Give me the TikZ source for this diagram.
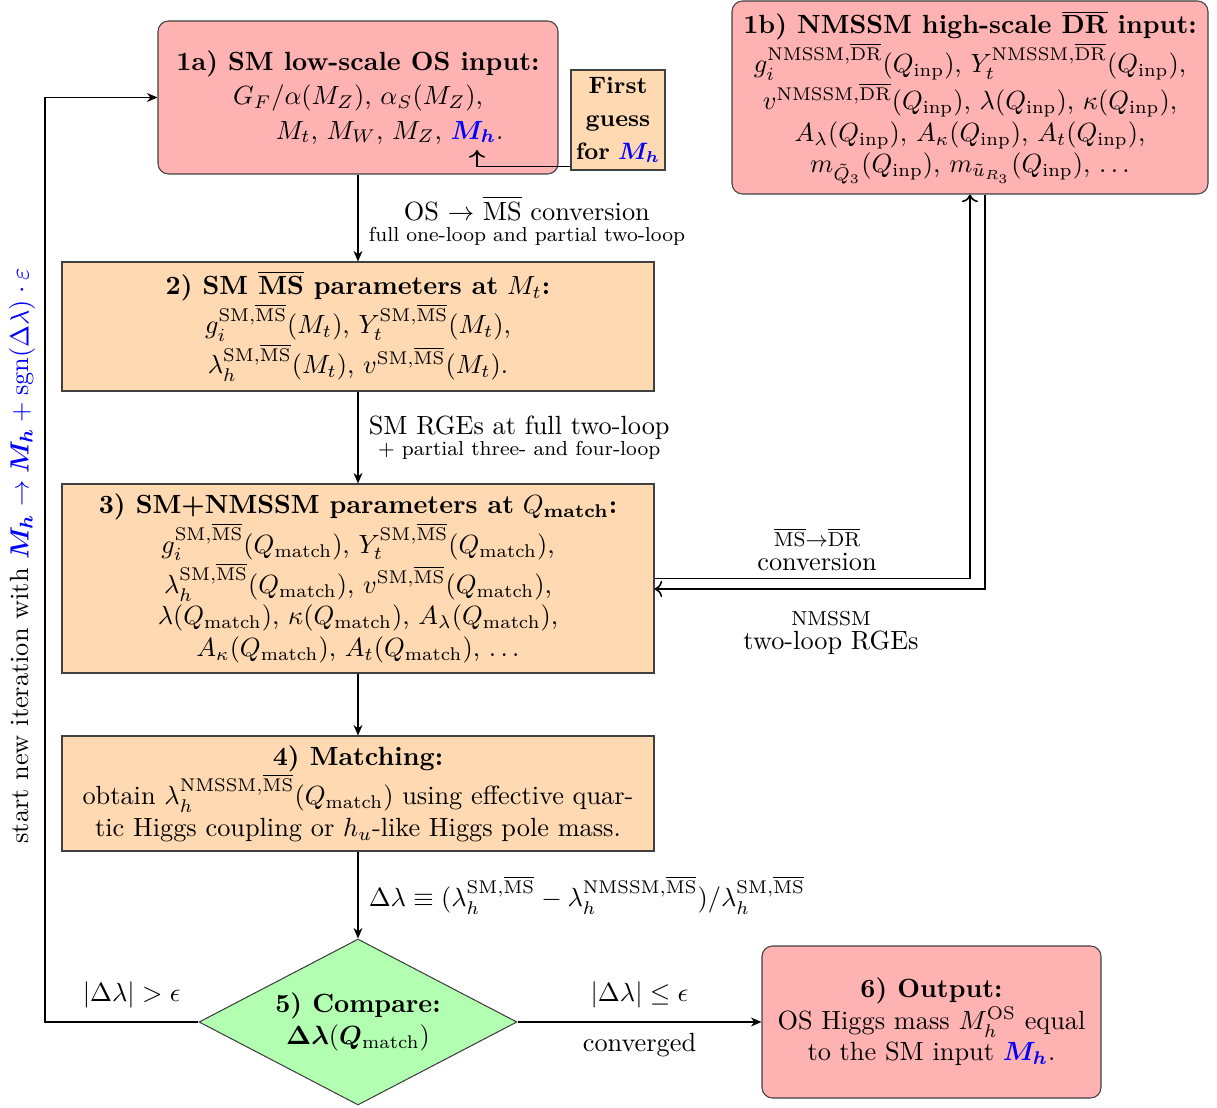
\documentclass[tikz,border=0pt]{standalone}
\usepackage{amsmath,amssymb,bm}
\usetikzlibrary{arrows.meta,shapes.geometric,calc}
\definecolor{pinkbox}{rgb}{1,0.7,0.7}
\definecolor{peachbox}{rgb}{1,0.85,0.7}
\definecolor{greenbox}{rgb}{0.7,1,0.7}
\newcommand{\MSb}{\overline{\text{MS}}}
\newcommand{\DRb}{\overline{\text{DR}}}
\newcommand{\Mhb}{{\color{blue}\bm{M_h}}}
\newcommand{\smalllbl}{\fontsize{7.7}{9}\selectfont}
\begin{document}
\begin{tikzpicture}[x=0.38pt,y=-0.38pt,
  box/.style={draw=black!75,line width=0.4pt,align=center,inner sep=0pt,font=\normalsize},
  redbox/.style={box,fill=pinkbox,rounded corners=4pt},
  orbox/.style={box,fill=peachbox},
  flow/.style={line width=0.6pt,-{Stealth[length=4pt,width=3.4pt]}},
  thin arrow/.style={line width=0.6pt,->},
  lbl/.style={inner sep=0pt,align=center}]
\useasboundingbox (0,0) rectangle (1217,1108);

\node[redbox,minimum width=400*0.38pt,minimum height=153*0.38pt] (n1a) at (358,97.5)
 {\textbf{1a) SM low-scale OS input:}\\[1pt]
  $G_F/\alpha(M_Z)$, $\alpha_S(M_Z)$,\\[1pt]
  \hspace*{24pt}$M_t$, $M_W$, $M_Z$, $\Mhb$.};

\node[orbox,minimum width=94*0.38pt,minimum height=100*0.38pt,font=\small] (fg) at (618,120)
 {\textbf{First}\\[1.5pt]\textbf{guess}\\[1.5pt]\textbf{for} $\Mhb$};

\node[redbox,minimum width=476*0.38pt,minimum height=193*0.38pt] (n1b) at (970,97.5)
 {\textbf{1b) NMSSM high-scale $\overline{\textbf{DR}}$ input:}\\
  $g_i^{\text{NMSSM},\DRb}(Q_{\text{inp}})$, $Y_t^{\text{NMSSM},\DRb}(Q_{\text{inp}})$,\\
  $v^{\text{NMSSM},\DRb}(Q_{\text{inp}})$, $\lambda(Q_{\text{inp}})$, $\kappa(Q_{\text{inp}})$,\\
  $A_\lambda(Q_{\text{inp}})$, $A_\kappa(Q_{\text{inp}})$, $A_t(Q_{\text{inp}})$,\\
  $m_{\tilde Q_3}(Q_{\text{inp}})$, $m_{\tilde u_{R_3}}(Q_{\text{inp}})$, $\ldots$};

\node[orbox,minimum width=592*0.38pt,minimum height=129*0.38pt] (n2) at (358,326.5)
 {\textbf{2) SM $\overline{\textbf{MS}}$ parameters at} $M_t$\textbf{:}\\
  $g_i^{\text{SM},\MSb}(M_t)$, $Y_t^{\text{SM},\MSb}(M_t)$,\\
  $\lambda_h^{\text{SM},\MSb}(M_t)$, $v^{\text{SM},\MSb}(M_t)$.};

\node[orbox,minimum width=592*0.38pt,minimum height=189*0.38pt] (n3) at (358,578.5)
 {\textbf{3) SM+NMSSM parameters at} $Q_{\textbf{match}}$\textbf{:}\\
  $g_i^{\text{SM},\MSb}(Q_{\text{match}})$, $Y_t^{\text{SM},\MSb}(Q_{\text{match}})$,\\
  $\lambda_h^{\text{SM},\MSb}(Q_{\text{match}})$, $v^{\text{SM},\MSb}(Q_{\text{match}})$,\\
  $\lambda(Q_{\text{match}})$, $\kappa(Q_{\text{match}})$, $A_\lambda(Q_{\text{match}})$,\\
  $A_\kappa(Q_{\text{match}})$, $A_t(Q_{\text{match}})$, $\ldots$};

\node[orbox,minimum width=592*0.38pt,minimum height=115*0.38pt] (n4) at (358,793.5)
 {\textbf{4) Matching:}\\
  obtain $\lambda_h^{\text{NMSSM},\MSb}(Q_{\text{match}})$ using effective quar-\\
  tic Higgs coupling or $h_u$-like Higgs pole mass.};

\node[draw=black!75,line width=0.4pt,fill=greenbox,diamond,aspect=1.92,inner sep=0pt,
      minimum width=318*0.38pt,minimum height=166*0.38pt,align=center] (n5) at (358,1022)
 {\textbf{5) Compare:}\\ $\bm{\Delta\lambda}(\bm{Q}_{\text{match}})$};

\node[redbox,minimum width=339*0.38pt,minimum height=152*0.38pt] (n6) at (931.5,1022)
 {\textbf{6) Output:}\\
  OS Higgs mass $M_h^{\text{OS}}$ equal\\
  to the SM input $\Mhb$.};

% flow arrows
\draw[flow] (n1a) -- node[lbl,right=10*0.38pt,yshift=-1pt]{OS $\to$ $\MSb$ conversion\\[-4pt]
  {\smalllbl full one-loop and partial two-loop}} (n2);
\draw[flow] (n2) -- node[lbl,right=10*0.38pt]{SM RGEs at full two-loop\\[-4pt]
  {\smalllbl + partial three- and four-loop}} (n3);
\draw[flow] (n3) -- (n4);
\draw[flow] (n4) -- node[lbl,right=10*0.38pt]{$\Delta\lambda \equiv (\lambda_h^{\text{SM},\MSb} - \lambda_h^{\text{NMSSM},\MSb})/\lambda_h^{\text{SM},\MSb}$} (n5);
\draw[flow] (n5) -- node[lbl,above=13*0.38pt]{$|\Delta\lambda| \leq \epsilon$}
  node[lbl,below=10*0.38pt]{converged} (n6);

% loop back
\coordinate (loopc) at (45,1022);
\draw[flow] (n5.west) -- node[lbl,pos=0.435,above=13*0.38pt]{$|\Delta\lambda| > \epsilon$} (loopc) |- (n1a.west);
\node[lbl,rotate=90] (looplbl) at (22,556)
 {start new iteration with {\color{blue}$\bm{M_h} \to \bm{M_h} + \text{sgn}(\Delta\lambda)\cdot\varepsilon$}};

% first guess
\coordinate (mhtip) at (477,150);
\draw[thin arrow] ($(fg.south west)+(0,-4)$) -| (mhtip);

% double connection 3 <-> 1b
\draw[thin arrow] (n3.east) -| (n1b.south);
\draw[thin arrow] ($(n1b.south)+(15,0)$) |- ($(n3.east)+(0,10.5)$);
\node[lbl] (convlbl) at (817,549) {{\smalllbl $\MSb{\to}\DRb$}\\[-3pt] conversion};
\node[lbl] (rgelbl) at (831,633) {{\smalllbl NMSSM}\\[-3pt] two-loop RGEs};
\end{tikzpicture}
\end{document}
